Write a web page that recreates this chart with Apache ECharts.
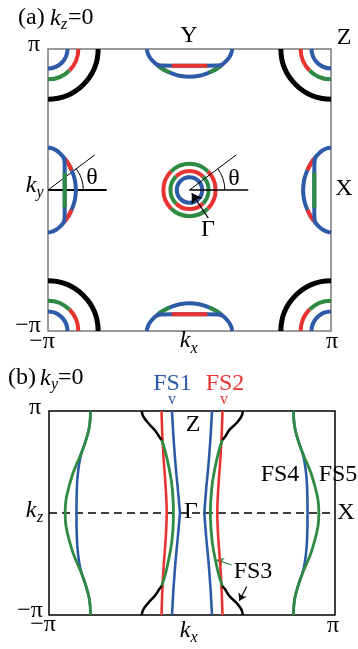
<!DOCTYPE html>
<html><head><meta charset="utf-8">
<script src="https://cdn.jsdelivr.net/npm/echarts@6/dist/echarts.min.js"></script>
<style>html,body{margin:0;padding:0;background:#fff}#c{width:358px;height:649px}</style>
</head><body><div id="c"></div>
<script>
const BLUE = '#2d5ba8', RED = '#e93330', GREEN = '#2f8a43', BLACK = '#000000';
const PAL = [BLUE, RED, GREEN, BLACK];

// ---------- Panel (a): kz = 0, units of pi ----------
const cornerBlackR = 0.355;
const cornerMidR = 0.215;
const cornerBlueR = 0.138;
const gammaBlueR = 0.09;
const gammaInnerR = 0.135;
const gammaOuterR = 0.185;
const thetaDeg = 37;
const thetaRayLen = 0.415;
const thetaArcR = 0.25;

// Y / X pocket profile: [position along BZ edge, depth from BZ edge]
const pocketOuter = [[-0.302,0],[-0.295,0.03],[-0.28,0.06],[-0.26,0.085],[-0.232,0.11],[-0.2,0.135],[-0.16,0.158],[-0.12,0.175],[-0.07,0.19],[0,0.197],[0.07,0.19],[0.12,0.175],[0.16,0.158],[0.2,0.135],[0.232,0.11],[0.26,0.085],[0.28,0.06],[0.295,0.03],[0.302,0]];
const pocketShoulderL = [[-0.22,0.12],[-0.18,0.147],[-0.14,0.167]];
const pocketShoulderR = [[0.14,0.167],[0.18,0.147],[0.22,0.12]];
const pocketInner = [[-0.232,0.11],[-0.2,0.117],[-0.125,0.118],[0,0.118],[0.125,0.118],[0.2,0.117],[0.232,0.11]];
const pocketInnerMid = [[-0.125,0.118],[0,0.118],[0.125,0.118]];

// ---------- Panel (b): ky = 0, [kx, kz] in units of pi ----------
const fs1Left  = [[-0.14,1],[-0.13,0.75],[-0.117,0.5],[-0.10,0.25],[-0.084,0],[-0.10,-0.25],[-0.117,-0.5],[-0.13,-0.75],[-0.14,-1]];
const fs1Right = [[0.14,1],[0.13,0.75],[0.117,0.5],[0.10,0.25],[0.086,0],[0.10,-0.25],[0.117,-0.5],[0.13,-0.75],[0.14,-1]];
const fs2Left  = [[-0.213,1],[-0.207,0.75],[-0.197,0.5],[-0.184,0.25],[-0.177,0],[-0.184,-0.25],[-0.197,-0.5],[-0.207,-0.75],[-0.213,-1]];
const fs2Right = [[0.213,1],[0.207,0.75],[0.197,0.5],[0.184,0.25],[0.177,0],[0.184,-0.25],[0.197,-0.5],[0.207,-0.75],[0.213,-1]];
const fs3GreenLeft  = [[-0.212,0.716],[-0.186,0.6],[-0.162,0.45],[-0.143,0.3],[-0.133,0.15],[-0.13,0],[-0.133,-0.15],[-0.143,-0.3],[-0.162,-0.45],[-0.186,-0.6],[-0.212,-0.716]];
const fs3GreenRight = [[0.212,0.716],[0.186,0.6],[0.162,0.45],[0.143,0.3],[0.133,0.15],[0.128,0],[0.133,-0.15],[0.143,-0.3],[0.162,-0.45],[0.186,-0.6],[0.212,-0.716]];
const fs3BlackTL = [[-0.352,1],[-0.34,0.944],[-0.305,0.88],[-0.259,0.81],[-0.228,0.745],[-0.212,0.716]];
const fs3BlackTR = [[0.356,1],[0.345,0.944],[0.31,0.88],[0.259,0.81],[0.23,0.745],[0.212,0.716]];
const fs3BlackBL = [[-0.352,-1],[-0.34,-0.944],[-0.305,-0.88],[-0.259,-0.81],[-0.228,-0.745],[-0.212,-0.716]];
const fs3BlackBR = [[0.356,-1],[0.345,-0.944],[0.31,-0.88],[0.259,-0.81],[0.23,-0.745],[0.212,-0.716]];
const fs4Left  = [[-0.71,1],[-0.717,0.85],[-0.745,0.7],[-0.78,0.55],[-0.797,0.4],[-0.805,0.25],[-0.808,0],[-0.805,-0.25],[-0.797,-0.4],[-0.78,-0.55],[-0.745,-0.7],[-0.717,-0.85],[-0.71,-1]];
const fs4Right = [[0.71,1],[0.717,0.85],[0.745,0.7],[0.78,0.55],[0.797,0.4],[0.805,0.25],[0.808,0],[0.805,-0.25],[0.797,-0.4],[0.78,-0.55],[0.745,-0.7],[0.717,-0.85],[0.71,-1]];
const fs5Left  = [[-0.71,1],[-0.717,0.85],[-0.745,0.7],[-0.785,0.55],[-0.83,0.4],[-0.862,0.25],[-0.882,0.12],[-0.887,0],[-0.882,-0.12],[-0.862,-0.25],[-0.83,-0.4],[-0.785,-0.55],[-0.745,-0.7],[-0.717,-0.85],[-0.71,-1]];
const fs5Right = [[0.71,1],[0.717,0.85],[0.745,0.7],[0.785,0.55],[0.83,0.4],[0.862,0.25],[0.882,0.12],[0.887,0],[0.882,-0.12],[0.862,-0.25],[0.83,-0.4],[0.785,-0.55],[0.745,-0.7],[0.717,-0.85],[0.71,-1]];
const kzZeroLine = [[-1,0],[1,0]];

// annotation arrows [tail, head]
const arrowGammaA = [[0.133,-0.2],[0.016,-0.023]];
const arrowFS3Green = [[0.278,-0.51],[0.173,-0.46]];
const arrowFS3Black = [[0.383,-0.72],[0.331,-0.86]];

// ---------- build ----------
function ln(gi, data, color, w, smooth, extra) {
  return Object.assign({type:'line', xAxisIndex:gi, yAxisIndex:gi, data:data, symbol:'none',
    smooth: smooth || false, lineStyle:{color:color, width:w}, silent:true, animation:false, clip:true}, extra || {});
}
const place = {
  top:    p => [p[0], 1 - p[1]],
  bottom: p => [p[0], -1 + p[1]],
  left:   p => [-1 + p[1], p[0]],
  right:  p => [1 - p[1], p[0]]
};
const series = [];
// Y pockets (top, bottom) and X pockets (left, right)
[['top', GREEN, RED], ['bottom', GREEN, RED], ['left', RED, GREEN], ['right', RED, GREEN]].forEach(([side, shoulderC, midC]) => {
  const f = place[side];
  series.push(ln(0, pocketOuter.map(f), BLUE, 4, 0.35));
  series.push(ln(0, pocketShoulderL.map(f), shoulderC, 4, 0.35));
  series.push(ln(0, pocketShoulderR.map(f), shoulderC, 4, 0.35));
  series.push(ln(0, pocketInner.map(f), BLUE, 4, 0.35));
  series.push(ln(0, pocketInnerMid.map(f), midC, 4, false));
});

// arcs: [cx, cy, r, a1, a2, colorIndex, width]
const arcData = [];
const B=0, R=1, G=2, K=3;
// corners
arcData.push([-1,1,cornerBlackR,270,360,K,5],[-1,1,cornerBlueR,270,360,B,4],[-1,1,cornerMidR,270,315,G,4],[-1,1,cornerMidR,315,360,R,4]);
arcData.push([1,1,cornerBlackR,180,270,K,5],[1,1,cornerBlueR,180,270,B,4],[1,1,cornerMidR,180,225,R,4],[1,1,cornerMidR,225,270,G,4]);
arcData.push([-1,-1,cornerBlackR,0,90,K,5],[-1,-1,cornerBlueR,0,90,B,4],[-1,-1,cornerMidR,0,45,R,4],[-1,-1,cornerMidR,45,90,G,4]);
arcData.push([1,-1,cornerBlackR,90,180,K,5],[1,-1,cornerBlueR,90,180,B,4],[1,-1,cornerMidR,90,135,G,4],[1,-1,cornerMidR,135,180,R,4]);
// Gamma
arcData.push([0,0,gammaBlueR,0,360,B,4]);
arcData.push([0,0,gammaInnerR,45,135,R,4],[0,0,gammaInnerR,225,315,R,4],[0,0,gammaInnerR,-45,45,G,4],[0,0,gammaInnerR,135,225,G,4]);
arcData.push([0,0,gammaOuterR,45,135,G,4],[0,0,gammaOuterR,225,315,G,4],[0,0,gammaOuterR,-45,45,R,4],[0,0,gammaOuterR,135,225,R,4]);
// theta arcs
arcData.push([0,0,thetaArcR,0,thetaDeg,K,1],[-1,0,thetaArcR,0,thetaDeg,K,1]);

series.push({
  type:'custom', xAxisIndex:0, yAxisIndex:0, data:arcData, silent:true, animation:false, clip:true,
  encode:{x:0, y:1},
  renderItem: function(params, api) {
    const c = api.coord([api.value(0), api.value(1)]);
    const s = api.size([api.value(2), api.value(2)]);
    const r = (s[0] + s[1]) / 2;
    const a1 = api.value(3), a2 = api.value(4);
    return {type:'arc', shape:{cx:c[0], cy:c[1], r:r, startAngle:-a2*Math.PI/180, endAngle:-a1*Math.PI/180, clockwise:true},
      style:{stroke:PAL[api.value(5)], lineWidth:api.value(6), fill:null}};
  }
});

// theta rays
const rad = thetaDeg*Math.PI/180;
series.push({type:'lines', coordinateSystem:'cartesian2d', xAxisIndex:0, yAxisIndex:0, silent:true, animation:false,
  lineStyle:{color:BLACK, width:1, opacity:1},
  data:[
    {coords:[[0,0],[thetaRayLen*Math.cos(rad), thetaRayLen*Math.sin(rad)]]},
    {coords:[[-1,0],[-1+thetaRayLen*Math.cos(rad), thetaRayLen*Math.sin(rad)]]},
    {coords:[[0,0],[thetaRayLen,0]], lineStyle:{width:1.5}},
    {coords:[[-1,0],[-1+thetaRayLen,0]], lineStyle:{width:1.8}}
  ]});
series.push({type:'lines', coordinateSystem:'cartesian2d', xAxisIndex:0, yAxisIndex:0, silent:true, animation:false,
  symbol:['none','arrow'], symbolSize:10, lineStyle:{color:BLACK, width:1.2, opacity:1},
  data:[{coords:arrowGammaA}]});

// Panel (b)
series.push(ln(1, kzZeroLine, BLACK, 1.3, false, {lineStyle:{color:BLACK, width:1.3, type:[8,5]}}));
series.push(ln(1, fs4Left, BLUE, 2.6, 0.4), ln(1, fs4Right, BLUE, 2.6, 0.4));
series.push(ln(1, fs5Left, GREEN, 2.8, 0.4), ln(1, fs5Right, GREEN, 2.8, 0.4));
series.push(ln(1, fs2Left, RED, 2.6, 0.4), ln(1, fs2Right, RED, 2.6, 0.4));
series.push(ln(1, fs1Left, BLUE, 2.6, false), ln(1, fs1Right, BLUE, 2.6, false));
series.push(ln(1, fs3GreenLeft, GREEN, 2.8, 0.4), ln(1, fs3GreenRight, GREEN, 2.8, 0.4));
series.push(ln(1, fs3BlackTL, BLACK, 2.5, 0.4), ln(1, fs3BlackTR, BLACK, 2.5, 0.4), ln(1, fs3BlackBL, BLACK, 2.5, 0.4), ln(1, fs3BlackBR, BLACK, 2.5, 0.4));
series.push({type:'lines', coordinateSystem:'cartesian2d', xAxisIndex:1, yAxisIndex:1, silent:true, animation:false,
  symbol:['none','arrow'], symbolSize:7,
  data:[{coords:arrowFS3Green, lineStyle:{color:GREEN, width:1.2, opacity:1}},
        {coords:arrowFS3Black, lineStyle:{color:BLACK, width:1.2, opacity:1}}]});

// ---------- text ----------
const FONT = '"Liberation Serif", "Times New Roman", serif';
function T(text, x, y, o) {
  o = o || {};
  return {type:'text', x:x, y:y, z:100, silent:true,
    style:{text:text, fill:o.fill || '#000', font:(o.italic ? 'italic ' : '') + (o.size || 24) + 'px ' + FONT,
      align:o.align || 'center', verticalAlign:o.va || 'middle'}};
}
const texts = [
  // panel a
  T('(a)', 18, 18, {align:'left'}), T('k', 50, 19, {align:'left', italic:true}), T('z', 61, 25, {align:'left', italic:true, size:16}), T('=0', 68, 18, {align:'left'}),
  T('π', 34, 45), T('Y', 189, 36), T('Z', 344, 38), T('X', 344, 189),
  T('k', 31, 186, {italic:true}), T('y', 40, 193, {italic:true, size:16}),
  T('−π', 28, 326), T('−π', 42, 342),
  T('k', 185, 341, {italic:true}), T('x', 194, 349, {italic:true, size:16}),
  T('π', 332, 342), T('Γ', 208, 230), T('θ', 234, 179), T('θ', 92, 178),
  // panel b
  T('(b)', 8, 378, {align:'left'}), T('k', 40, 379, {align:'left', italic:true}), T('y', 51, 385, {align:'left', italic:true, size:16}), T('=0', 58, 378, {align:'left'}),
  T('FS1', 172.5, 384, {fill:BLUE}), T('FS2', 225, 384, {fill:RED}),
  T('v', 172, 400, {fill:BLUE, size:16}), T('v', 224, 400, {fill:RED, size:16}),
  T('π', 35, 408), T('k', 31, 511, {italic:true}), T('z', 40, 518, {italic:true, size:16}),
  T('−π', 30, 611), T('−π', 43, 625),
  T('k', 185, 631, {italic:true}), T('x', 194, 638, {italic:true, size:16}),
  T('π', 333, 626),
  T('Z', 193, 425), T('Γ', 191, 512), T('X', 346, 513),
  T('FS4', 280, 475), T('FS5', 338, 475), T('FS3', 253, 572)
];

const chart = echarts.init(document.getElementById('c'));
chart.setOption({
  animation:false,
  backgroundColor:'#ffffff',
  grid:[
    {left:48, top:49, width:283, height:282, show:true, borderColor:'#7a7a7a', borderWidth:1.5, backgroundColor:'transparent'},
    {left:49, top:411, width:286, height:204, show:true, borderColor:'#000000', borderWidth:1.5, backgroundColor:'transparent'}
  ],
  xAxis:[
    {gridIndex:0, type:'value', min:-1, max:1, show:false},
    {gridIndex:1, type:'value', min:-1, max:1, show:false}
  ],
  yAxis:[
    {gridIndex:0, type:'value', min:-1, max:1, show:false},
    {gridIndex:1, type:'value', min:-1, max:1, show:false}
  ],
  series:series,
  graphic:{elements:texts}
});
</script></body></html>
